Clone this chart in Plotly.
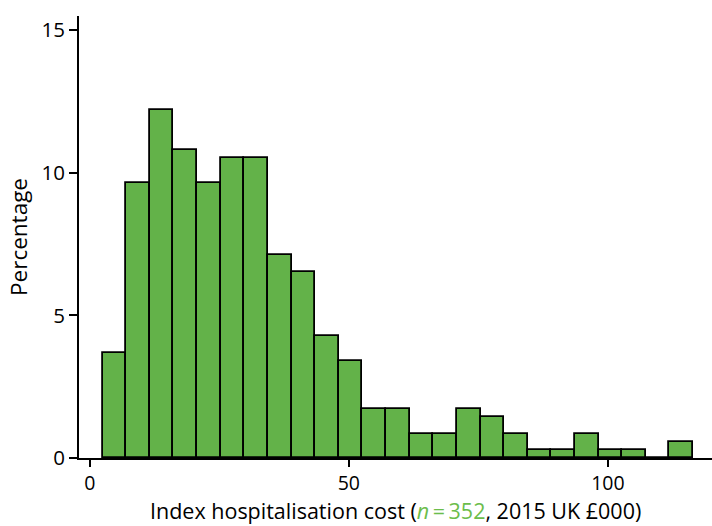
import plotly.graph_objects as go

# Histogram of index hospitalisation cost (2015 UK £000), n = 352
n_total = 352
bin_start = 2.45   # left edge of first bin (£000)
bin_width = 4.56   # bin width (£000)
counts = [13, 34, 43, 38, 34, 37, 37, 25, 23, 15, 12, 6, 6,
          3, 3, 6, 5, 3, 1, 1, 3, 1, 1, 0, 2]

centers = [bin_start + bin_width * (i + 0.5) for i in range(len(counts))]
percent = [c / n_total * 100 for c in counts]

x_ticks = [0, 50, 100]
y_ticks = [0, 5, 10, 15]

bar_green = "#63B249"
text_green = "#6CBD4B"
font_family = "Open Sans, Noto Sans, sans-serif"

fig = go.Figure(
    go.Bar(
        x=centers,
        y=percent,
        width=bin_width,
        marker=dict(color=bar_green, line=dict(color="black", width=1.8)),
        hoverinfo="x+y",
    )
)

fig.update_layout(
    width=712,
    height=526,
    margin=dict(l=79, r=0, t=16, b=68),
    plot_bgcolor="white",
    paper_bgcolor="white",
    showlegend=False,
    bargap=0,
    font=dict(family=font_family, size=21, color="black"),
)

fig.update_xaxes(
    range=[-2.1, 120.1],
    tickvals=x_ticks,
    ticks="outside",
    ticklen=7,
    tickwidth=2,
    tickcolor="black",
    showline=True,
    linecolor="black",
    linewidth=2,
    showgrid=False,
    zeroline=False,
    tickfont=dict(size=19.5),
)

fig.update_yaxes(
    range=[0, 15.5],
    tickvals=y_ticks,
    ticks="outside",
    ticklen=8,
    tickwidth=2,
    tickcolor="black",
    showline=True,
    linecolor="black",
    linewidth=2,
    showgrid=False,
    zeroline=False,
    tickfont=dict(size=20.5),
    title=dict(text="Percentage", font=dict(size=22.5), standoff=8),
)

# x-axis title, sitting at the bottom edge of the figure
fig.add_annotation(
    text="Index hospitalisation cost (<span style='color:%s'><i>n</i>\u2009=\u2009352</span>, 2015 UK £000)" % text_green,
    xref="paper", yref="paper",
    x=0.5, y=-68 / 442,
    xanchor="center", yanchor="bottom",
    showarrow=False,
    borderpad=0,
    font=dict(size=21.5),
)

fig.write_html("out.html")
